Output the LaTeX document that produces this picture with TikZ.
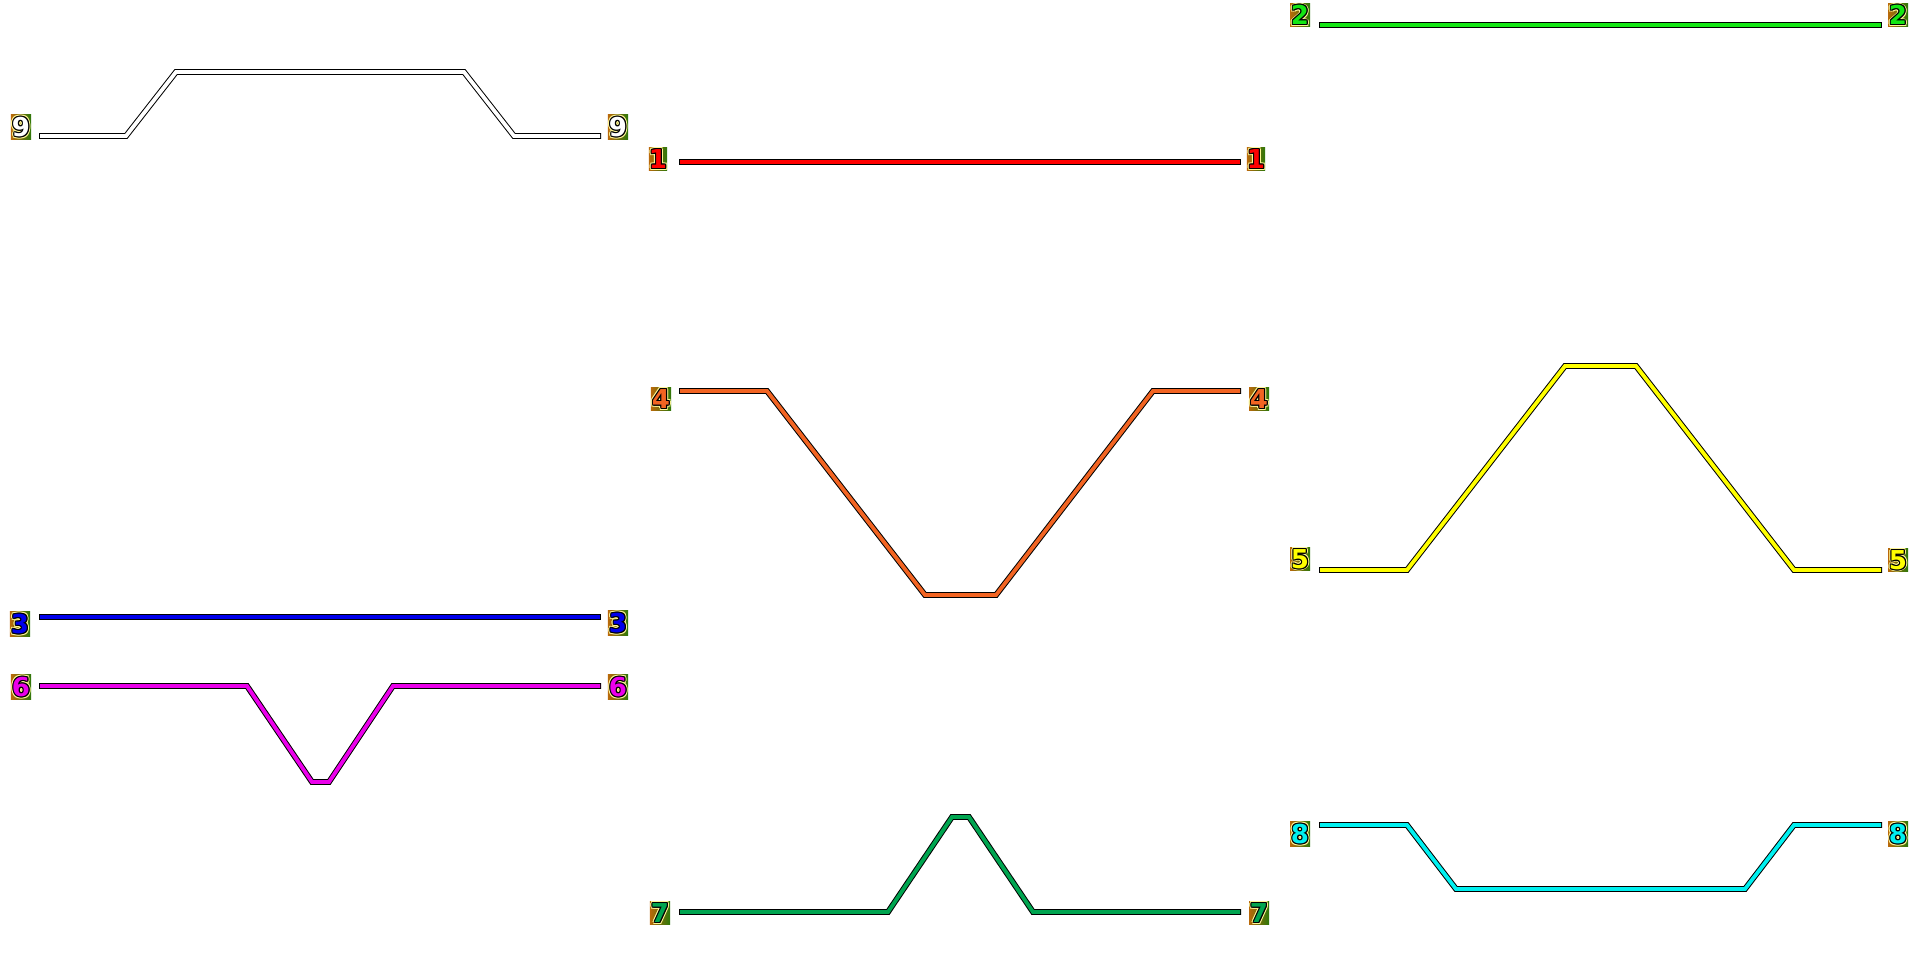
\documentclass[tikz,border=0pt]{standalone}
\usepackage{fontspec}
\newfontfamily\badgefont{DejaVu Sans}
\definecolor{haloy}{RGB}{255,246,150}
\definecolor{bgbrown}{RGB}{185,105,10}
\definecolor{bggreen}{RGB}{45,120,10}
\definecolor{cwhite}{RGB}{255,255,255}
\definecolor{cred}{RGB}{255,0,0}
\definecolor{clime}{RGB}{20,230,20}
\definecolor{cblue}{RGB}{0,0,235}
\definecolor{corange}{RGB}{242,100,34}
\definecolor{cyellow}{RGB}{255,255,0}
\definecolor{cmagenta}{RGB}{235,0,235}
\definecolor{cdgreen}{RGB}{0,165,80}
\definecolor{ccyan}{RGB}{0,240,240}
\newcommand\outlcopies[4]{%
\rlap{\color{#1}\kern#2{#4}}%
\rlap{\color{#1}\kern-#2{#4}}%
\rlap{\color{#1}\raisebox{#2}{#4}}%
\rlap{\color{#1}\raisebox{-#2}{#4}}%
\rlap{\color{#1}\kern#3\raisebox{#3}{#4}}%
\rlap{\color{#1}\kern-#3\raisebox{#3}{#4}}%
\rlap{\color{#1}\kern#3\raisebox{-#3}{#4}}%
\rlap{\color{#1}\kern-#3\raisebox{-#3}{#4}}}
\newcommand\badgedigit[2]{\outlcopies{haloy}{0.65pt}{0.46pt}{#2}\outlcopies{black}{0.32pt}{0.23pt}{#2}\textcolor{#1}{#2}}
\tikzset{
  badge/.style={inner sep=0pt, minimum width=0.2cm, minimum height=0.23cm,
    left color=bgbrown, right color=bggreen,
    font=\badgefont\bfseries\fontsize{7.4}{7.4}\selectfont},
  trackouter/.style={draw=black, line width=0.058cm, line join=miter, line cap=butt},
  trackinner/.style={draw=#1, line width=0.038cm, line join=miter, line cap=butt,
    shorten <=0.01cm, shorten >=0.01cm}
}
\newcommand\trk[2]{\draw[trackouter] #2; \draw[trackinner=#1] #2;}
\begin{document}
\begin{tikzpicture}[x=0.01cm,y=-0.01cm]
\useasboundingbox[fill=white] (0,0) rectangle (1920,960);
% labels
\node[badge] (l9a) at (21,127) {\badgedigit{cwhite}{9}};
\node[badge] (l9b) at (618,127) {\badgedigit{cwhite}{9}};
\node[badge, minimum width=0.15cm] (l1a) at (658,159) {\badgedigit{cred}{1}};
\node[badge, minimum width=0.15cm] (l1b) at (1256,159) {\badgedigit{cred}{1}};
\node[badge] (l2a) at (1300,15) {\badgedigit{clime}{2}};
\node[badge] (l2b) at (1898,15) {\badgedigit{clime}{2}};
\node[badge] (l4a) at (661,399) {\badgedigit{corange}{4}};
\node[badge] (l4b) at (1259,399) {\badgedigit{corange}{4}};
\node[badge] (l5a) at (1300,559) {\badgedigit{cyellow}{5}};
\node[badge] (l5b) at (1898,560) {\badgedigit{cyellow}{5}};
\node[badge] (l3a) at (20,624) {\badgedigit{cblue}{3}};
\node[badge] (l3b) at (618,623) {\badgedigit{cblue}{3}};
\node[badge] (l6a) at (21,687) {\badgedigit{cmagenta}{6}};
\node[badge] (l6b) at (618,687) {\badgedigit{cmagenta}{6}};
\node[badge] (l7a) at (660,913) {\badgedigit{cdgreen}{7}};
\node[badge] (l7b) at (1259,913) {\badgedigit{cdgreen}{7}};
\node[badge] (l8a) at (1300,834) {\badgedigit{ccyan}{8}};
\node[badge] (l8b) at (1898,834) {\badgedigit{ccyan}{8}};
% track end points
\coordinate (s9) at (39,136);   \coordinate (e9) at (601,136);
\coordinate (s1) at (679,162);  \coordinate (e1) at (1241,162);
\coordinate (s2) at (1319,25);  \coordinate (e2) at (1882,25);
\coordinate (s4) at (679,391);  \coordinate (e4) at (1241,391);
\coordinate (s5) at (1319,570); \coordinate (e5) at (1882,570);
\coordinate (s3) at (39,617);   \coordinate (e3) at (601,617);
\coordinate (s6) at (39,686);   \coordinate (e6) at (601,686);
\coordinate (s7) at (679,912);  \coordinate (e7) at (1241,912);
\coordinate (s8) at (1319,825); \coordinate (e8) at (1882,825);
% tracks
\trk{cwhite}{(s9) -- (126,136) -- (176,72) -- (464,72) -- (514,136) -- (e9)}
\trk{cred}{(s1) -- (e1)}
\trk{clime}{(s2) -- (e2)}
\trk{corange}{(s4) -- (767,391) -- (925,595) -- (996,595) -- (1153,391) -- (e4)}
\trk{cyellow}{(s5) -- (1407,570) -- (1565,366) -- (1636,366) -- (1794,570) -- (e5)}
\trk{cblue}{(s3) -- (e3)}
\trk{cmagenta}{(s6) -- (247,686) -- (312,782) -- (329,782) -- (393,686) -- (e6)}
\trk{cdgreen}{(s7) -- (888,912) -- (952,817) -- (969,817) -- (1033,912) -- (e7)}
\trk{ccyan}{(s8) -- (1407,825) -- (1456,889) -- (1745,889) -- (1794,825) -- (e8)}
\end{tikzpicture}
\end{document}
